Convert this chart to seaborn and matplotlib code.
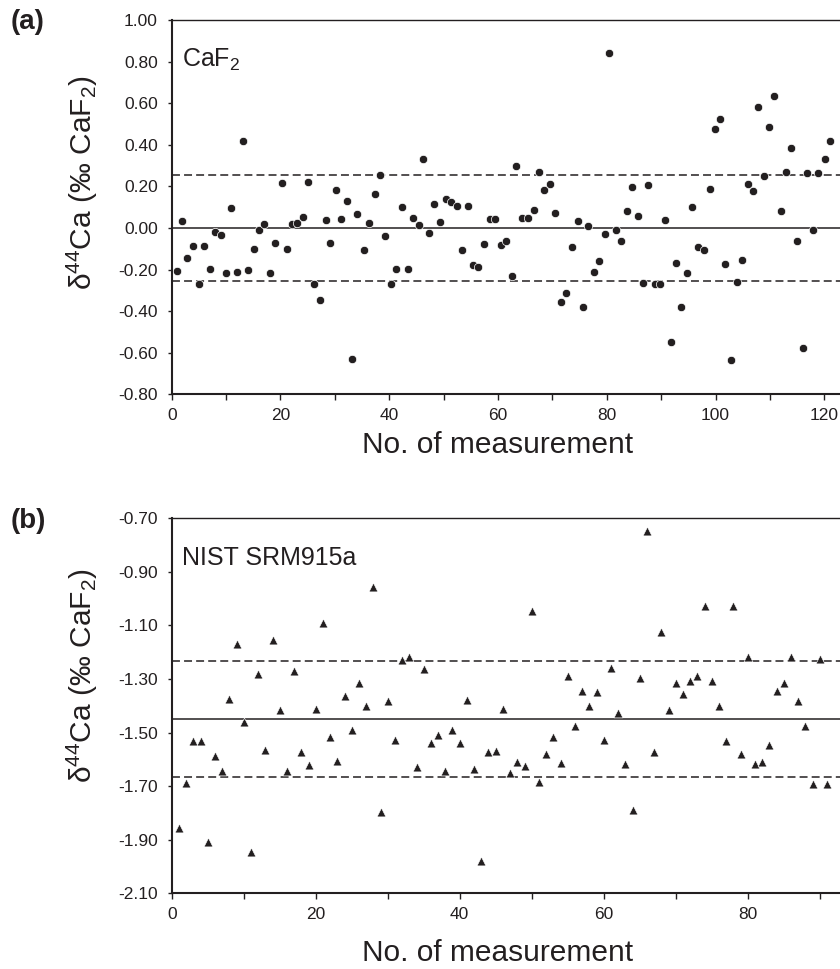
import numpy as np
import pandas as pd
import matplotlib
matplotlib.use("Agg")
import matplotlib.pyplot as plt
import seaborn as sns

# ---------------- data ----------------
# Panel (a): CaF2 repeated measurements
xa = [0.9, 1.9, 2.9, 4.0, 5.0, 6.0, 7.0, 8.0, 9.0, 9.9,
      10.9, 12.1, 13.1, 14.1, 15.1, 16.1, 17.0, 18.0, 19.0, 20.2,
      21.2, 22.1, 23.0, 24.1, 25.1, 26.1, 27.2, 28.3, 29.2, 30.2,
      31.2, 32.2, 33.2, 34.1, 35.4, 36.3, 37.3, 38.3, 39.3, 40.3,
      41.2, 42.4, 43.4, 44.4, 45.4, 46.3, 47.3, 48.3, 49.3, 50.4,
      51.4, 52.4, 53.4, 54.4, 55.4, 56.4, 57.4, 58.5, 59.5, 60.5,
      61.5, 62.5, 63.4, 64.4, 65.6, 66.6, 67.5, 68.5, 69.6, 70.5,
      71.5, 72.5, 73.7, 74.7, 75.6, 76.6, 77.6, 78.6, 79.6, 80.5,
      81.7, 82.7, 83.7, 84.6, 85.7, 86.7, 87.6, 88.8, 89.8, 90.7,
      91.8, 92.7, 93.7, 94.7, 95.7, 96.8, 97.9, 98.9, 99.9, 100.8,
      101.8, 102.8, 104.0, 104.9, 105.9, 106.9, 107.9, 108.9, 109.8, 110.8,
      112.0, 113.0, 113.9, 115.0, 116.0, 116.9, 117.9, 118.9, 120.1, 121.1]
ya = [-0.205, 0.034, -0.143, -0.087, -0.269, -0.087, -0.196, -0.018, -0.034, -0.216,
      0.096, -0.212, 0.420, -0.202, -0.103, -0.011, 0.019, -0.216, -0.071, 0.215,
      -0.103, 0.019, 0.026, 0.054, 0.220, -0.269, -0.346, 0.038, -0.071, 0.184,
      0.043, 0.131, -0.628, 0.069, -0.107, 0.022, 0.163, 0.253, -0.040, -0.269,
      -0.196, 0.103, -0.196, 0.048, 0.013, 0.332, -0.024, 0.117, 0.029, 0.138,
      0.123, 0.107, -0.106, 0.107, -0.179, -0.186, -0.075, 0.043, 0.043, -0.080,
      -0.064, -0.232, 0.300, 0.048, 0.048, 0.085, 0.268, 0.184, 0.210, 0.071,
      -0.357, -0.311, -0.091, 0.034, -0.378, 0.008, -0.212, -0.159, -0.029, 0.841,
      -0.008, -0.061, 0.080, 0.196, 0.059, -0.264, 0.205, -0.269, -0.269, 0.038,
      -0.550, -0.168, -0.378, -0.216, 0.101, -0.091, -0.107, 0.189, 0.476, 0.522,
      -0.175, -0.633, -0.258, -0.154, 0.212, 0.179, 0.580, 0.252, 0.487, 0.633,
      0.080, 0.268, 0.383, -0.061, -0.577, 0.263, -0.008, 0.263, 0.332, 0.417]
mean_a = 0.0
band_a = [0.253, -0.253]

# Panel (b): NIST SRM915a repeated measurements
xb = list(range(1, 92))
yb = [-1.855, -1.689, -1.532, -1.532, -1.908, -1.588, -1.642, -1.376, -1.170, -1.462,
      -1.944, -1.280, -1.565, -1.154, -1.416, -1.642, -1.271, -1.573, -1.622, -1.412,
      -1.090, -1.516, -1.606, -1.364, -1.491, -1.315, -1.400, -0.955, -1.795, -1.381,
      -1.529, -1.230, -1.219, -1.630, -1.264, -1.538, -1.509, -1.642, -1.491, -1.538,
      -1.380, -1.635, -1.980, -1.572, -1.570, -1.413, -1.652, -1.611, -1.625, -1.046,
      -1.685, -1.581, -1.516, -1.615, -1.289, -1.476, -1.343, -1.400, -1.347, -1.529,
      -1.259, -1.428, -1.618, -1.790, -1.295, -0.747, -1.573, -1.123, -1.416, -1.316,
      -1.356, -1.308, -1.289, -1.026, -1.307, -1.400, -1.532, -1.029, -1.581, -1.217,
      -1.618, -1.610, -1.546, -1.343, -1.315, -1.217, -1.381, -1.476, -1.693, -1.226,
      -1.693]
mean_b = -1.449
band_b = [-1.232, -1.667]

yticks_a = [-0.80, -0.60, -0.40, -0.20, 0.00, 0.20, 0.40, 0.60, 0.80, 1.00]
yticks_b = [-2.10, -1.90, -1.70, -1.50, -1.30, -1.10, -0.90, -0.70]

# ---------------- style ----------------
sns.set_style("ticks")
plt.rcParams['font.family'] = ['Liberation Sans', 'DejaVu Sans']
plt.rcParams['mathtext.fontset'] = 'custom'
plt.rcParams['mathtext.rm'] = 'Liberation Sans'
plt.rcParams['mathtext.it'] = 'Liberation Sans:italic'
plt.rcParams['mathtext.bf'] = 'Liberation Sans:bold'
plt.rcParams['axes.unicode_minus'] = False

INK = '#231f20'

W, H = 840, 969
fig = plt.figure(figsize=(W / 100, H / 100), dpi=100)
fig.patch.set_facecolor('white')

left_px = 171.7
ax1 = fig.add_axes([left_px / W, 1 - 394.3 / H, (W - left_px) / W, 374.3 / H])
ax2 = fig.add_axes([left_px / W, 1 - 893.3 / H, (W - left_px) / W, 375.0 / H])

dfa = pd.DataFrame({'n': xa, 'd': ya})
dfb = pd.DataFrame({'n': xb, 'd': yb})

sns.scatterplot(data=dfa, x='n', y='d', ax=ax1, marker='o', s=36, color=INK,
                edgecolor='white', linewidth=0.5, zorder=3, legend=False)
sns.scatterplot(data=dfb, x='n', y='d', ax=ax2, marker='^', s=40, color=INK,
                edgecolor='white', linewidth=0.4, zorder=3, legend=False)

for ax, m, band in ((ax1, mean_a, band_a), (ax2, mean_b, band_b)):
    ax.axhline(m, color=INK, lw=1.1, zorder=2)
    for b in band:
        ax.axhline(b, color=INK, lw=1.1, dashes=(5.2, 2.7), zorder=2)

def style_axis(ax, xmax, xtick_max, yticks, ylim):
    ax.set_xlim(0, xmax)
    ax.set_ylim(*ylim)
    ticks = list(range(0, xtick_max + 1, 10))
    ax.set_xticks(ticks)
    ax.set_xticklabels([str(t) if t % 20 == 0 else '' for t in ticks])
    ax.set_yticks(yticks)
    ax.set_yticklabels(['%.2f' % v for v in yticks])
    ax.spines['right'].set_visible(False)
    ax.spines['left'].set_linewidth(1.5)
    ax.spines['bottom'].set_linewidth(1.5)
    ax.spines['top'].set_linewidth(1.0)
    for s in ax.spines.values():
        s.set_color(INK)
    ax.tick_params(axis='x', direction='out', length=4.2, width=1.0, pad=5.5,
                   labelsize=12.5, colors=INK)
    ax.tick_params(axis='y', direction='out', length=3.0, width=1.0, pad=7,
                   labelsize=12.5, colors=INK)
    ax.set_facecolor('white')
    ax.grid(False)

style_axis(ax1, (W - left_px) / 5.438, 120, yticks_a, (-0.80, 1.00))
style_axis(ax2, (W - left_px) / 7.2, 90, yticks_b, (-2.10, -0.70))

ylab = 'δ$^{44}$Ca (‰ CaF$_{2}$)'
for ax, ly, xy in ((ax1, 0.566, -0.097), (ax2, 0.58, -0.121)):
    ax.set_ylabel(ylab, fontsize=21.5, color=INK)
    ax.yaxis.set_label_coords(-0.107, ly)
    ax.set_xlabel('No. of measurement', fontsize=21.5, color=INK, va='top')
    ax.xaxis.set_label_coords(0.487, xy)

ax1.text(0.015, 0.875, 'CaF$_{2}$', transform=ax1.transAxes, fontsize=18,
         color=INK, ha='left', va='baseline')
ax2.text(0.015, 0.8755, 'NIST SRM915a', transform=ax2.transAxes, fontsize=18,
         color=INK, ha='left', va='baseline')

fig.text(11 / W, 1 - 9 / H, '(a)', fontsize=20, fontweight='bold',
         color=INK, ha='left', va='top')
fig.text(11 / W, 1 - 508 / H, '(b)', fontsize=20, fontweight='bold',
         color=INK, ha='left', va='top')

fig.savefig('out.png', dpi=100, facecolor='white')
